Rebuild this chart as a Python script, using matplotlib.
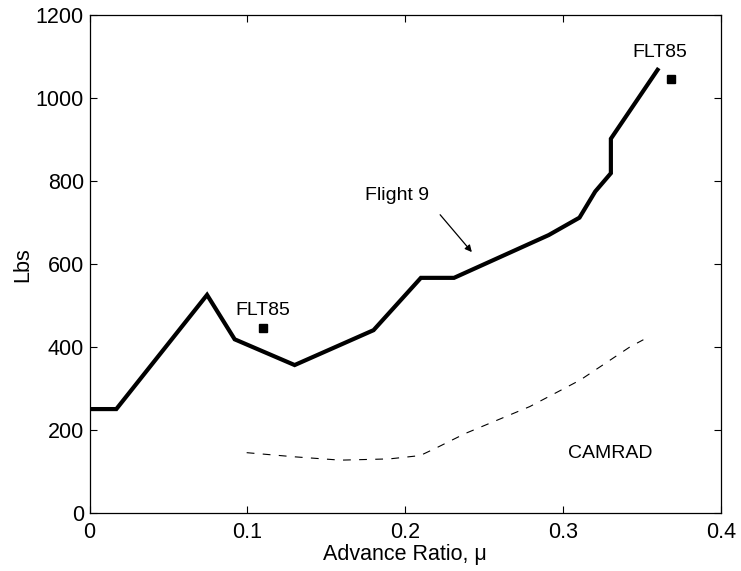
import matplotlib
matplotlib.use("Agg")
import matplotlib.pyplot as plt

plt.rcParams['font.family'] = ['Liberation Sans', 'DejaVu Sans']

# Flight 9 measured
flight9_mu = [0.0, 0.017, 0.0745, 0.092, 0.130, 0.180, 0.210, 0.231, 0.291, 0.3105, 0.3205, 0.3304, 0.3304, 0.360]
flight9_lbs = [251, 251, 526, 419, 357, 441, 567, 567, 670, 712, 775, 819, 902, 1068]

# CAMRAD prediction
camrad_mu = [0.0996, 0.130, 0.159, 0.190, 0.2095, 0.219, 0.238, 0.279, 0.311, 0.3426, 0.351]
camrad_lbs = [146, 136, 128, 131, 139, 156, 192, 257, 321, 401, 418]

# FLT85 points
flt85_mu = [0.110, 0.3684]
flt85_lbs = [447, 1046]

fig = plt.figure(figsize=(7.41, 5.71), dpi=100)
ax = fig.add_axes([89.5/741, 1 - 513.3/571, (720.7-89.5)/741, (513.3-15.0)/571])

ax.plot(flight9_mu, flight9_lbs, color='black', lw=3.0, solid_joinstyle='miter')
ax.plot(camrad_mu, camrad_lbs, color='black', lw=0.8, dashes=(7, 7.5))
ax.plot(flt85_mu, flt85_lbs, 's', color='black', ms=5.5, ls='none')

ax.text(0.110, 488, 'FLT85', ha='center', va='center', fontsize=14)
ax.text(0.3617, 1110, 'FLT85', ha='center', va='center', fontsize=14)
ax.text(0.33, 145, 'CAMRAD', ha='center', va='center', fontsize=14)
ax.text(0.195, 765, 'Flight 9', ha='center', va='center', fontsize=14)
ax.annotate('', xy=(0.2423, 629), xytext=(0.2222, 719),
            arrowprops=dict(arrowstyle='-|>', color='black', lw=0.9,
                            shrinkA=0, shrinkB=0, mutation_scale=10))

ax.set_xlim(0, 0.4)
ax.set_ylim(0, 1200)
ax.set_xticks([0, 0.1, 0.2, 0.3, 0.4])
ax.set_xticklabels(['0', '0.1', '0.2', '0.3', '0.4'])
ax.set_yticks([0, 200, 400, 600, 800, 1000, 1200])
ax.tick_params(axis='both', direction='in', length=5, width=0.8, labelsize=15.5,
               top=True, right=True)
ax.tick_params(axis='x', pad=6)
ax.tick_params(axis='y', pad=4)
for s in ax.spines.values():
    s.set_linewidth(0.9)
ax.set_xlabel('Advance Ratio, μ', fontsize=15.5, labelpad=1)
ax.set_ylabel('Lbs', fontsize=15.5, labelpad=2)

fig.savefig('out.png', dpi=100)
